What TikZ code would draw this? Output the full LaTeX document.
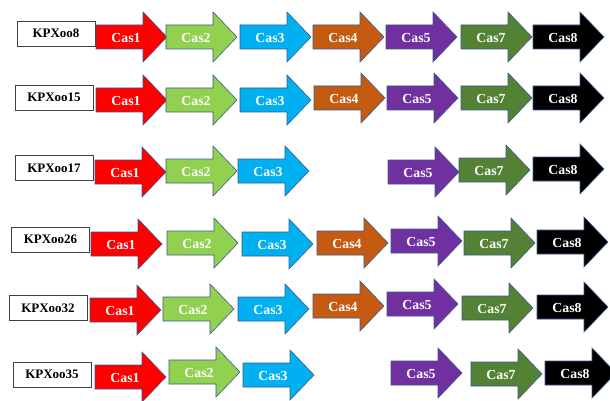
\documentclass[tikz,border=0pt]{standalone}
\usepackage{fontspec}
\setmainfont{Liberation Serif}
\definecolor{cred}{HTML}{FF0000}
\definecolor{cgreen}{HTML}{92D050}
\definecolor{cblue}{HTML}{00B0F0}
\definecolor{corange}{HTML}{C55A11}
\definecolor{cpurple}{HTML}{7030A0}
\definecolor{cdgreen}{HTML}{548235}
\definecolor{cblack}{HTML}{000000}
\definecolor{outl}{HTML}{3A5A8C}
\tikzset{
  arrowbody/.style={draw=outl, line width=0.6pt, line join=miter},
  castext/.style={text=white, font=\fontsize{13.8}{13.8}\selectfont\bfseries, inner sep=0pt},
  strainbox/.style={draw=black!75, line width=0.9pt, fill=white, minimum width=78pt, minimum height=25pt, inner sep=0pt, font=\fontsize{13}{13}\selectfont\bfseries}
}
% #1 name, #2 x, #3 y, #4 colour, #5 label
\newcommand{\casarr}[5]{%
  \fill[#4, arrowbody] (#2,#3-12) -- (#2+47,#3-12) -- (#2+47,#3-25) -- (#2+71,#3) -- (#2+47,#3+25) -- (#2+47,#3+12) -- (#2,#3+12) -- cycle;
  \node[castext] (#1) at (#2+30,#3+1) {#5};
}
\begin{document}
\begin{tikzpicture}[x=1pt,y=-1pt]
\useasboundingbox (0,0) rectangle (610,401);
\fill[white] (0,0) rectangle (610,401);
% Row 1
\node[strainbox] (s1) at (56,33.5) {KPXoo8};
\casarr{r1a}{96}{37}{cred}{Cas1}
\casarr{r1b}{166}{37}{cgreen}{Cas2}
\casarr{r1c}{240}{37}{cblue}{Cas3}
\casarr{r1d}{313}{37}{corange}{Cas4}
\casarr{r1e}{386}{37}{cpurple}{Cas5}
\casarr{r1f}{461}{37}{cdgreen}{Cas7}
\casarr{r1g}{533}{37}{cblack}{Cas8}
% Row 2
\node[strainbox] (s2) at (54,97.5) {KPXoo15};
\casarr{r2a}{96}{100}{cred}{Cas1}
\casarr{r2b}{166}{100}{cgreen}{Cas2}
\casarr{r2c}{240}{100}{cblue}{Cas3}
\casarr{r2d}{314}{98}{corange}{Cas4}
\casarr{r2e}{387}{98}{cpurple}{Cas5}
\casarr{r2f}{461}{98}{cdgreen}{Cas7}
\casarr{r2g}{533}{98}{cblack}{Cas8}
% Row 3
\node[strainbox] (s3) at (54,168) {KPXoo17};
\casarr{r3a}{95}{172}{cred}{Cas1}
\casarr{r3b}{166}{171}{cgreen}{Cas2}
\casarr{r3c}{238}{171}{cblue}{Cas3}
\casarr{r3e}{388}{172}{cpurple}{Cas5}
\casarr{r3f}{459}{170}{cdgreen}{Cas7}
\casarr{r3g}{533}{169}{cblack}{Cas8}
% Row 4
\node[strainbox] (s4) at (50.5,239.5) {KPXoo26};
\casarr{r4a}{91}{244}{cred}{Cas1}
\casarr{r4b}{167}{243}{cgreen}{Cas2}
\casarr{r4c}{242}{244}{cblue}{Cas3}
\casarr{r4d}{317}{243}{corange}{Cas4}
\casarr{r4e}{391}{241}{cpurple}{Cas5}
\casarr{r4f}{464}{243}{cdgreen}{Cas7}
\casarr{r4g}{537}{242}{cblack}{Cas8}
% Row 5
\node[strainbox] (s5) at (48,308) {KPXoo32};
\casarr{r5a}{90}{310}{cred}{Cas1}
\casarr{r5b}{163}{309}{cgreen}{Cas2}
\casarr{r5c}{238}{309}{cblue}{Cas3}
\casarr{r5d}{313}{306}{corange}{Cas4}
\casarr{r5e}{387}{304}{cpurple}{Cas5}
\casarr{r5f}{462}{308}{cdgreen}{Cas7}
\casarr{r5g}{537}{307}{cblack}{Cas8}
% Row 6
\node[strainbox] (s6) at (52,374.5) {KPXoo35};
\casarr{r6a}{95}{377}{cred}{Cas1}
\casarr{r6b}{169}{372}{cgreen}{Cas2}
\casarr{r6c}{243}{375}{cblue}{Cas3}
\casarr{r6e}{391}{373}{cpurple}{Cas5}
\casarr{r6f}{471}{374}{cdgreen}{Cas7}
\casarr{r6g}{545}{373}{cblack}{Cas8}
\end{tikzpicture}
\end{document}
